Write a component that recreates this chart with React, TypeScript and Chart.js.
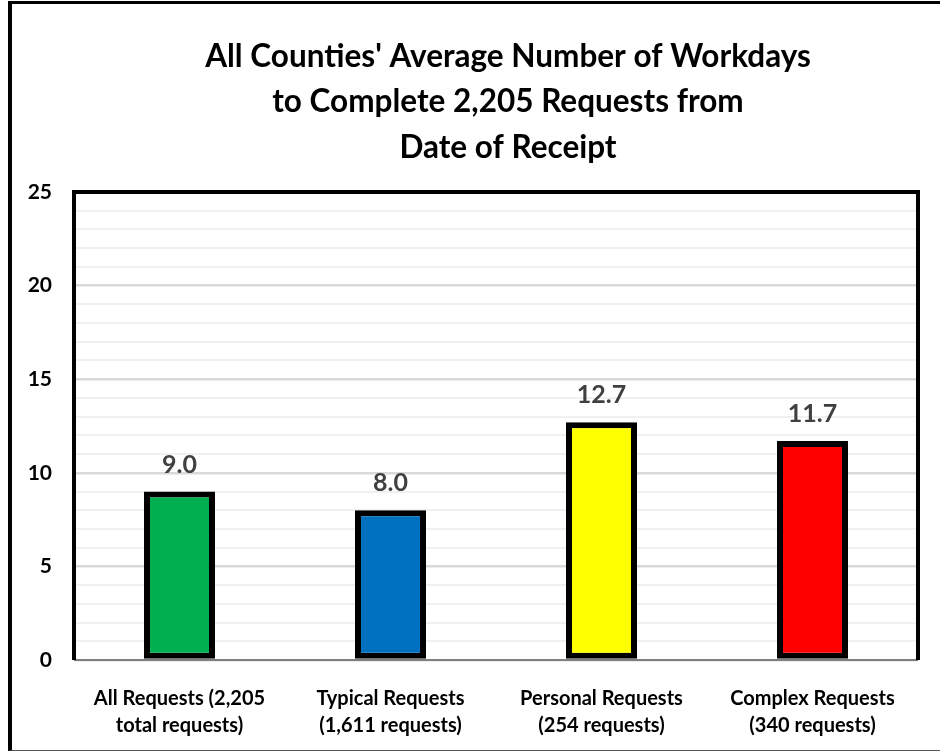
import React, { useEffect, useRef } from "react";
import { Chart, registerables } from "chart.js";

Chart.register(...registerables);

const titleLines = [
  "All Counties' Average Number of Workdays",
  "to Complete 2,205 Requests from",
  "Date of Receipt",
];
const categories = [
  ["All Requests (2,205", "total requests)"],
  ["Typical Requests", "(1,611 requests)"],
  ["Personal Requests", "(254 requests)"],
  ["Complex Requests", "(340 requests)"],
];
const values = [9.0, 8.0, 12.7, 11.7];
const barColors = ["#00B050", "#0070C0", "#FFFF00", "#FF0000"];
const yMin = 0;
const yMax = 25;
const yMinorStep = 1;
const yMajorStep = 5;

const FONT = "Lato, 'Open Sans', 'DejaVu Sans', sans-serif";

const plotBox = {
  id: "plotBox",
  afterDatasetsDraw(chart: any) {
    const { ctx, chartArea } = chart;
    const { left, right, top, bottom } = chartArea;
    ctx.save();
    ctx.strokeStyle = "#808080";
    ctx.lineWidth = 2;
    ctx.beginPath();
    ctx.moveTo(left, bottom);
    ctx.lineTo(right, bottom);
    ctx.stroke();
    ctx.strokeStyle = "#000000";
    ctx.lineWidth = 4;
    ctx.lineJoin = "miter";
    ctx.beginPath();
    ctx.moveTo(left, bottom);
    ctx.lineTo(left, top);
    ctx.lineTo(right, top);
    ctx.lineTo(right, bottom);
    ctx.stroke();
    ctx.restore();
  },
};

const valueLabels = {
  id: "valueLabels",
  afterDatasetsDraw(chart: any) {
    const { ctx } = chart;
    const meta = chart.getDatasetMeta(0);
    ctx.save();
    ctx.font = `bold 25px ${FONT}`;
    ctx.fillStyle = "#404040";
    ctx.textAlign = "center";
    ctx.textBaseline = "alphabetic";
    meta.data.forEach((el: any, i: number) => {
      ctx.fillText(values[i].toFixed(1), el.x, el.y - 19);
    });
    ctx.restore();
  },
};

export default function App() {
  const ref = useRef<HTMLCanvasElement | null>(null);

  useEffect(() => {
    if (!ref.current) return;
    const chart = new Chart(ref.current, {
      type: "bar",
      data: {
        labels: categories,
        datasets: [
          {
            data: values,
            backgroundColor: barColors,
            borderColor: "#000000",
            borderWidth: 6,
            borderSkipped: false,
            barPercentage: 0.3365,
            categoryPercentage: 1,
          },
        ],
      },
      options: {
        responsive: false,
        animation: false,
        devicePixelRatio: 1,
        layout: { padding: { top: 34, left: 0, right: 0, bottom: 0 } },
        plugins: {
          legend: { display: false },
          tooltip: { enabled: false },
          title: {
            display: true,
            text: titleLines,
            color: "#000000",
            font: { family: FONT, size: 31.5, weight: "bold", lineHeight: 1.444 },
            padding: { top: 0, bottom: 21.5 },
          },
        },
        scales: {
          x: {
            grid: { display: false },
            border: { display: false },
            ticks: {
              color: "#000000",
              font: { family: FONT, size: 20, weight: "bold", lineHeight: 1.35 },
              padding: 17,
              maxRotation: 0,
              autoSkip: false,
            },
            afterFit: (s: any) => {
              s.height = 91;
            },
          },
          y: {
            min: yMin,
            max: yMax,
            grid: {
              drawTicks: false,
              color: (c: any) =>
                c.tick && c.tick.value % yMajorStep === 0 ? "#d9d9d9" : "#f0f0f0",
              lineWidth: (c: any) =>
                c.tick && c.tick.value % yMajorStep === 0 ? 2.5 : 2,
            },
            border: { display: false },
            ticks: {
              stepSize: yMinorStep,
              autoSkip: false,
              color: "#000000",
              padding: 22,
              font: { family: FONT, size: 21, weight: "bold" },
              callback: (v: any) => (Number(v) % yMajorStep === 0 ? String(v) : ""),
            },
            afterFit: (s: any) => {
              s.width = 74;
            },
          },
          spacer: {
            type: "linear",
            position: "right",
            display: true,
            grid: { display: false },
            border: { display: false },
            ticks: { display: false },
            afterFit: (s: any) => {
              s.width = 98;
            },
          },
        },
      },
      plugins: [plotBox, valueLabels],
    } as any);
    return () => chart.destroy();
  }, []);

  return (
    <div
      style={{
        position: "fixed",
        left: 0,
        top: 0,
        width: 940,
        height: 751,
        overflow: "hidden",
        background: "#ffffff",
      }}
    >
      <div
        style={{
          position: "absolute",
          left: 8,
          top: 1,
          width: 1100,
          height: 750,
          boxSizing: "border-box",
          borderTop: "3px solid #000",
          borderLeft: "4px solid #000",
          borderBottom: "1px solid #555",
        }}
      />
      <canvas
        ref={ref}
        width={1016}
        height={751}
        style={{ position: "absolute", left: 0, top: 0, width: 1016, height: 751 }}
      />
    </div>
  );
}
